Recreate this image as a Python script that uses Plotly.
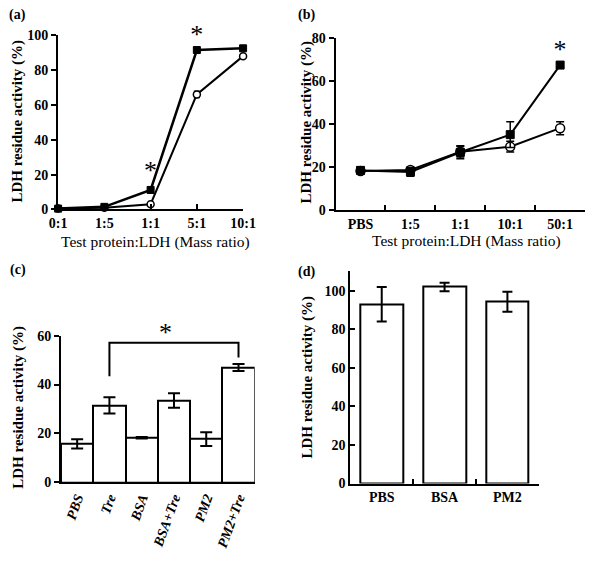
import plotly.graph_objects as go

# ---------- data ----------
a_cats = ["0:1", "1:5", "1:1", "5:1", "10:1"]
a_filled = [0.5, 1.5, 11.2, 91.5, 92.5]
a_filled_err = [0.3, 0.4, 1.5, 0.8, 0.8]
a_open = [0.5, 1.0, 3.0, 66.0, 88.0]
a_open_err = [0.3, 0.3, 0.5, 1.8, 0.8]
a_star_x = ["1:1", "5:1"]
a_star_y = [21, 99.5]

b_cats = ["PBS", "1:5", "1:1", "10:1", "50:1"]
b_filled = [18.6, 17.9, 27.0, 35.2, 67.5]
b_filled_err = [1.5, 2.0, 3.0, 6.0, 1.0]
b_open = [18.3, 18.8, 27.3, 29.6, 38.2]
b_open_err = [1.2, 1.2, 2.5, 2.5, 3.0]
b_star_x = ["50:1"]
b_star_y = [74]

c_cats = ["PBS", "Tre", "BSA", "BSA+Tre", "PM2", "PM2+Tre"]
c_vals = [15.7, 31.5, 18.2, 33.5, 17.7, 47.0]
c_err = [1.9, 3.3, 0.3, 3.0, 2.8, 1.4]
c_bracket_x = ["Tre", "Tre", "PM2+Tre", "PM2+Tre"]
c_bracket_y = [43.4, 57.1, 57.1, 51.1]
c_star_x = 2.75
c_star_y = 61.5
c_ymax = 60

d_cats = ["PBS", "BSA", "PM2"]
d_vals = [93.0, 102.0, 94.3]
d_err = [9.0, 2.2, 5.2]

FONT = "Liberation Serif"
W, H = 600, 564

fig = go.Figure()

def ln(w=2):
    return dict(color="black", width=w)

star_font = dict(family=FONT, size=26, color="black")

# ---------- panel (a) ----------
fig.add_trace(go.Scatter(x=a_cats, y=a_open, mode="lines+markers", xaxis="x", yaxis="y",
                         line=ln(2), marker=dict(symbol="circle", size=7, color="white", line=ln(1.5)),
                         error_y=dict(type="data", array=a_open_err, color="black", thickness=1.5, width=3),
                         cliponaxis=False, showlegend=False))
fig.add_trace(go.Scatter(x=a_cats, y=a_filled, mode="lines+markers", xaxis="x", yaxis="y",
                         line=ln(2.5), marker=dict(symbol="square", size=7, color="black", line=ln(1)),
                         error_y=dict(type="data", array=a_filled_err, color="black", thickness=1.5, width=3),
                         cliponaxis=False, showlegend=False))
fig.add_trace(go.Scatter(x=a_star_x, y=a_star_y, mode="text", text=["*"] * len(a_star_x),
                         textposition="middle center", textfont=star_font, xaxis="x", yaxis="y",
                         cliponaxis=False, showlegend=False, hoverinfo="skip"))

# ---------- panel (b) ----------
fig.add_trace(go.Scatter(x=b_cats, y=b_open, mode="lines+markers", xaxis="x2", yaxis="y2",
                         line=ln(2), marker=dict(symbol="circle", size=9, color="white", line=ln(1.5)),
                         error_y=dict(type="data", array=b_open_err, color="black", thickness=1.5, width=4),
                         cliponaxis=False, showlegend=False))
fig.add_trace(go.Scatter(x=b_cats, y=b_filled, mode="lines+markers", xaxis="x2", yaxis="y2",
                         line=ln(2), marker=dict(symbol="square", size=8, color="black", line=ln(1)),
                         error_y=dict(type="data", array=b_filled_err, color="black", thickness=1.5, width=4),
                         cliponaxis=False, showlegend=False))
fig.add_trace(go.Scatter(x=b_star_x, y=b_star_y, mode="text", text=["*"] * len(b_star_x),
                         textposition="middle center", textfont=star_font, xaxis="x2", yaxis="y2",
                         cliponaxis=False, showlegend=False, hoverinfo="skip"))

# ---------- panel (c) ----------
fig.add_trace(go.Bar(x=c_cats, y=c_vals, xaxis="x3", yaxis="y3",
                     marker=dict(color="white", line=ln(2)),
                     error_y=dict(type="data", array=c_err, color="black", thickness=2, width=6),
                     showlegend=False))
fig.add_trace(go.Scatter(x=c_bracket_x, y=c_bracket_y, mode="lines", xaxis="x3", yaxis="y3",
                         line=ln(2), cliponaxis=False, showlegend=False))

# ---------- panel (d) ----------
fig.add_trace(go.Bar(x=d_cats, y=d_vals, xaxis="x4", yaxis="y4", width=0.68,
                     marker=dict(color="white", line=ln(2)),
                     error_y=dict(type="data", array=d_err, color="black", thickness=2, width=5),
                     showlegend=False))

def px_dom(x0, x1):
    return [x0 / W, x1 / W]

def py_dom(top, bottom):
    return [1 - bottom / H, 1 - top / H]

tickf = dict(family=FONT, size=14, color="black", weight="bold")
axbase = dict(showline=True, linecolor="black", linewidth=2, showgrid=False, zeroline=False,
              tickfont=tickf, tickcolor="black", tickwidth=2, ticklen=5)

fig.update_layout(
    width=W, height=H, margin=dict(l=0, r=0, t=0, b=0), autosize=False,
    paper_bgcolor="white", plot_bgcolor="white",
    font=dict(family=FONT, color="black"),
    xaxis=dict(axbase, domain=px_dom(51, 243), anchor="y", type="category", range=[0, 4],
               ticks="inside"),
    yaxis=dict(axbase, domain=py_dom(29, 208), anchor="x", range=[0, 100], dtick=20, ticks="outside"),
    xaxis2=dict(axbase, domain=px_dom(339, 598), anchor="y2", type="category", range=[-0.5, 4.5],
                ticks="inside", tickson="boundaries"),
    yaxis2=dict(axbase, domain=py_dom(32, 209), anchor="x2", range=[0, 80], dtick=20, ticks="outside"),
    xaxis3=dict(axbase, domain=px_dom(54, 255), anchor="y3", type="category", range=[-0.5, 5.5],
                ticks="", tickangle=-70,
                tickfont=dict(family=FONT, size=14, color="black", weight="bold", style="italic")),
    yaxis3=dict(axbase, domain=py_dom(337.7, 488.3), anchor="x3", range=[0, c_ymax], dtick=20, ticks="outside"),
    xaxis4=dict(axbase, domain=px_dom(354.3, 550), anchor="y4", type="category", range=[-0.5, 2.5],
                ticks="inside", tickson="boundaries"),
    yaxis4=dict(axbase, domain=py_dom(271.7, 489.6), anchor="x4", range=[0, 110], tickvals=[0, 20, 40, 60, 80, 100],
                ticks="inside"),
    bargap=0,
)

ann = []
# significance star in (c), above the bracket
ann.append(dict(text="*", x=c_star_x, y=c_star_y / c_ymax, xref="x3", yref="y3 domain", showarrow=False,
                xanchor="center", yanchor="middle", font=star_font))

def ptext(text, x, y, size=14, bold=True, angle=0):
    ann.append(dict(text=text, x=x / W, y=1 - y / H, xref="paper", yref="paper", showarrow=False,
                    textangle=angle, xanchor="center", yanchor="middle",
                    font=dict(family=FONT, size=size, color="black", weight="bold" if bold else "normal")))

# panel labels
ptext("(a)", 9, 8)
ptext("(b)", 309, 8)
ptext("(c)", 9, 270)
ptext("(d)", 309, 272)

# axis titles
ptext("Test protein:LDH (Mass ratio)", 152, 241, size=15.5, bold=False)
ptext("Test protein:LDH (Mass ratio)", 475, 240, size=15.5, bold=False)
ylab = "LDH residue activity (%)"
ptext(ylab, 9, 117, size=15, angle=-90)
ptext(ylab, 309, 118, size=15, angle=-90)
ptext(ylab, 9, 411, size=15, angle=-90)
ptext(ylab, 310, 380, size=15, angle=-90)

fig.update_layout(annotations=ann)
fig.write_html("out.html", config={"displayModeBar": False},
               post_script="document.documentElement.style.margin='0';document.body.style.margin='0';document.body.style.overflow='hidden';")
